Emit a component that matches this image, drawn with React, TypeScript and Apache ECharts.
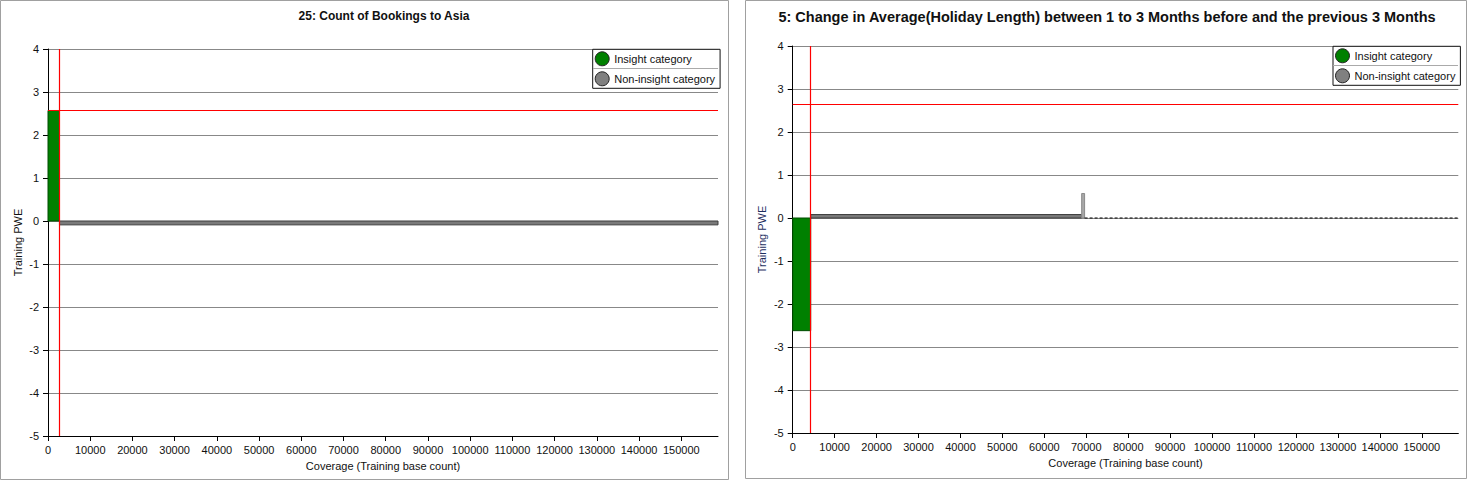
import React, { useEffect, useRef } from "react";
import * as echarts from "echarts";

// ---- data ----
const xTicks = [0, 10000, 20000, 30000, 40000, 50000, 60000, 70000, 80000, 90000, 100000, 110000, 120000, 130000, 140000, 150000];
const yTicks = [-5, -4, -3, -2, -1, 0, 1, 2, 3, 4];
const legendNames = ["Insight category", "Non-insight category"];

const leftTitle = "25: Count of Bookings to Asia";
// segments: [xStart, xEnd, PWE]
const leftInsight = [[0, 2720, 2.57]];
const leftNonInsight = [[2720, 158700, -0.09]];
const leftRedX = 2720;
const leftRedY = 2.58;

const rightTitle = "5: Change in Average(Holiday Length) between 1 to 3 Months before and the previous 3 Months";
const rightInsight = [[0, 4290, -2.62]];
const rightNonInsight = [[4290, 68900, 0.08]];
const rightNonInsightSpike = [[68900, 69600, 0.57]];
const rightZeroDash = [[69600, 0], [158700, 0]];
const rightRedX = 4290;
const rightRedY = 2.65;

const xMax = 158700;
const yMin = -5;
const yMax = 4;

const GREEN = "#008000";
const GRAY = "#808080";

function rectRender(fill: string, stroke: string) {
  return (params: any, api: any) => {
    const x0 = api.value(0);
    const x1 = api.value(1);
    const v = api.value(2);
    const p0 = api.coord([x0, 0]);
    const p1 = api.coord([x1, v]);
    return {
      type: "rect",
      shape: {
        x: Math.min(p0[0], p1[0]),
        y: Math.min(p0[1], p1[1]),
        width: Math.abs(p1[0] - p0[0]),
        height: Math.abs(p1[1] - p0[1]),
      },
      style: { fill, stroke, lineWidth: 1 },
    };
  };
}

export default function App() {
  const ref = useRef<HTMLDivElement>(null);
  useEffect(() => {
    document.body.style.margin = "0";
    const chart = echarts.init(ref.current!, null, { renderer: "svg" });
    const font = "'Liberation Sans', Arial, sans-serif";
    const grids = [
      { left: 48, top: 49, width: 670, height: 387 },
      { left: 792.7, top: 46, width: 665.6, height: 387 },
    ];
    const mkX = (i: number) => ({
      type: "value",
      gridIndex: i,
      min: 0,
      max: xMax,
      name: "Coverage (Training base count)",
      nameLocation: "middle",
      nameGap: 24,
      nameTextStyle: { fontSize: 11, color: "#111", fontFamily: font },
      axisLine: { show: true, onZero: false, lineStyle: { color: "#000", width: 1 } },
      axisTick: { show: true, length: 5, lineStyle: { color: "#000" }, customValues: xTicks },
      axisLabel: { fontSize: 11, color: "#111", fontFamily: font, margin: 8, customValues: xTicks, formatter: (v: number) => String(v) },
      splitLine: { show: false },
    });
    const mkY = (i: number, nameColor: string) => ({
      type: "value",
      gridIndex: i,
      min: yMin,
      max: yMax,
      interval: 1,
      name: "Training PWE",
      nameLocation: "middle",
      nameGap: 25,
      nameTextStyle: { fontSize: 11, color: nameColor, fontFamily: font },
      axisLine: { show: true, lineStyle: { color: "#000", width: 1 } },
      axisTick: { show: true, length: 5, lineStyle: { color: "#000" }, customValues: yTicks },
      axisLabel: { fontSize: 11, color: "#111", fontFamily: font, margin: 9, customValues: yTicks, formatter: (v: number) => String(v) },
      splitLine: { show: true, lineStyle: { color: "#888", width: 1 } },
    });
    const legendBase = {
      orient: "vertical",
      data: legendNames,
      icon: "circle",
      itemWidth: 14,
      itemHeight: 14,
      itemGap: 5,
      padding: [2, 5, 2, 2],
      borderColor: "#111",
      borderWidth: 1,
      backgroundColor: "#fff",
      selectedMode: false,
      itemStyle: { borderColor: "#222", borderWidth: 1 },
      textStyle: { fontSize: 11, color: "#111", fontFamily: font },
    };
    const redMarks = (xv: number, yv: number) => ({
      symbol: "none",
      silent: true,
      animation: false,
      label: { show: false },
      lineStyle: { color: "#ff0000", width: 1.2, type: "solid" },
      emphasis: { disabled: true },
      data: [{ xAxis: xv }, { yAxis: yv }],
    });
    const custom = (data: number[][], xi: number, name: string, fill: string, stroke: string, color: string, extra: any = {}) => ({
      type: "custom",
      name,
      xAxisIndex: xi,
      yAxisIndex: xi,
      data,
      encode: { x: [0, 1], y: 2 },
      itemStyle: { color },
      renderItem: rectRender(fill, stroke),
      z: 3,
      ...extra,
    });
    chart.setOption({
      animation: false,
      backgroundColor: "#fff",
      textStyle: { fontFamily: font },
      title: [
        { text: leftTitle, left: 379, top: 5, textAlign: "center", textStyle: { fontSize: 12, fontWeight: "bold", color: "#111", fontFamily: font } },
        { text: rightTitle, left: 1102, top: 4, textAlign: "center", textStyle: { fontSize: 14.5, fontWeight: "bold", color: "#111", fontFamily: font } },
      ],
      grid: grids,
      xAxis: [mkX(0), mkX(1)],
      yAxis: [mkY(0, "#111"), mkY(1, "#1f2f5f")],
      legend: [
        { ...legendBase, left: 592.7, top: 49.3 },
        { ...legendBase, left: 1333, top: 46.3 },
      ],
      graphic: [
        { type: "rect", shape: { x: 0.5, y: 0.5, width: 728, height: 479 }, style: { fill: "none", stroke: "#a0a0a0", lineWidth: 1 }, silent: true, z: -1 },
        { type: "rect", shape: { x: 745.5, y: 0.5, width: 721, height: 478 }, style: { fill: "none", stroke: "#a0a0a0", lineWidth: 1 }, silent: true, z: -1 },
        { type: "line", shape: { x1: 593, y1: 68.5, x2: 718, y2: 68.5 }, style: { stroke: "#aaa", lineWidth: 1 }, silent: true, z: 100 },
        { type: "line", shape: { x1: 1333, y1: 65.5, x2: 1458, y2: 65.5 }, style: { stroke: "#aaa", lineWidth: 1 }, silent: true, z: 100 },
      ],
      series: [
        custom(leftInsight, 0, legendNames[0], GREEN, "#004d00", GREEN, { markLine: redMarks(leftRedX, leftRedY) }),
        custom(leftNonInsight, 0, legendNames[1], "#7a7a7a", "#3c3c3c", GRAY),

        custom(rightInsight, 1, legendNames[0], GREEN, "#004d00", GREEN, { markLine: redMarks(rightRedX, rightRedY) }),
        custom(rightNonInsight, 1, legendNames[1], "#7a7a7a", "#3c3c3c", GRAY),
        custom(rightNonInsightSpike, 1, legendNames[1], "#a8a8a8", "#8a8a8a", GRAY),
        {
          type: "line",
          name: "Zero",
          xAxisIndex: 1,
          yAxisIndex: 1,
          data: rightZeroDash,
          symbol: "none",
          silent: true,
          z: 5,
          lineStyle: { color: "#000", width: 1, type: [3, 2] },
        },
      ],
    });
    return () => chart.dispose();
  }, []);
  return <div ref={ref} style={{ width: 1469, height: 482 }} />;
}
